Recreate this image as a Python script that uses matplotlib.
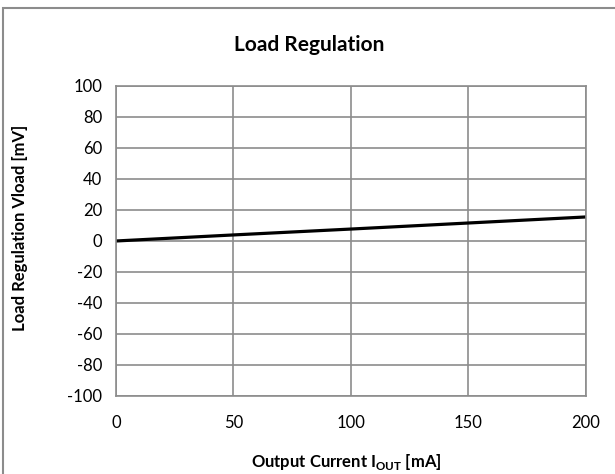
import matplotlib.pyplot as plt
from matplotlib.patches import Rectangle

# load regulation measurement
current_ma = [0, 50, 100, 150, 200]
vload_mv = [0, 3.9, 7.7, 11.6, 15.5]

x_ticks = [0, 50, 100, 150, 200]
y_ticks = list(range(-100, 101, 20))

plt.rcParams['font.family'] = ['Lato', 'DejaVu Sans']
plt.rcParams['axes.unicode_minus'] = False

fig = plt.figure(figsize=(6.15, 4.74), dpi=100)
ax = fig.add_axes([0.1886, 0.1646, 0.764, 0.654])

ax.plot(current_ma, vload_mv, color='black', linewidth=2.3, solid_capstyle='butt')

ax.set_xlim(0, 200)
ax.set_ylim(-100, 100)
ax.set_xticks(x_ticks)
ax.set_yticks(y_ticks)
ax.tick_params(length=0, labelsize=12, pad=14)
ax.tick_params(axis='y', pad=10)
ax.grid(True, color='#8c8c8c', linewidth=1.2)
ax.set_axisbelow(True)
for s in ax.spines.values():
    s.set_color('#8c8c8c')
    s.set_linewidth(1.2)

ax.set_xlabel('Output Current I$_{\\mathregular{OUT}}$ [mA]', fontsize=12,
              fontweight='bold', va='center')
ax.xaxis.set_label_coords(0.49, -0.213)
ax.set_ylabel('Load Regulation Vload [mV]', fontsize=12, fontweight='bold',
              va='center')
ax.yaxis.set_label_coords(-0.204, 0.542)
fig.text(0.503, 0.905, 'Load Regulation', ha='center', va='center',
         fontsize=15, fontweight='bold')

# outer chart frame, running off the right and bottom edges
fig.patches.append(Rectangle((3 / 615, -10 / 474), 640 / 615, 476 / 474,
                             transform=fig.transFigure, fill=False,
                             edgecolor='#8c8c8c', linewidth=1.5))

fig.savefig('out.png', dpi=100)
